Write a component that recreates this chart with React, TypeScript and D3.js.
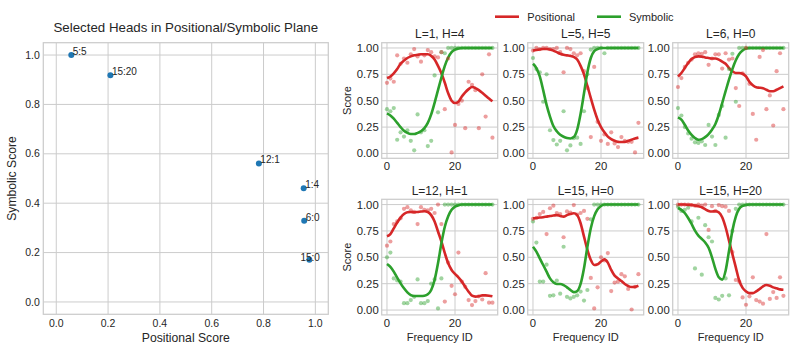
import React, { useEffect } from "react";
import * as d3 from "d3";

// ---- scatter of selected heads ----
const headLabels = ["5:5", "15:20", "12:1", "1:4", "6:0", "15:0"];
const headPositional = [0.058, 0.209, 0.782, 0.955, 0.957, 0.977];
const headSymbolic = [1.0, 0.918, 0.561, 0.461, 0.329, 0.171];

// ---- frequency panels ----
const freqIds = [0, 1, 2, 3, 4, 5, 6, 7, 8, 9, 10, 11, 12, 13, 14, 15, 16, 17, 18, 19, 20, 21, 22, 23, 24, 25, 26, 27, 28, 29, 30, 31];
const panelTitles = ["L=1, H=4", "L=5, H=5", "L=6, H=0", "L=12, H=1", "L=15, H=0", "L=15, H=20"];

const l1h4PosDots = [0.67, 0.71, 0.68, 0.93, 0.85, 0.9, 0.86, 0.94, 0.99, 0.92, 0.87, 0.93, 0.98, 0.96, 0.92, 0.91, 0.96, 0.42, 0.9, 0.01, 0.27, 0.47, 0.5, 0.24, 0.68, 0.65, 0.6, 0.24, 0.75, 0.35, 0.94, 0.15];
const l1h4PosLine = [0.715, 0.73, 0.76, 0.8, 0.85, 0.88, 0.905, 0.92, 0.93, 0.935, 0.94, 0.94, 0.94, 0.925, 0.89, 0.83, 0.76, 0.67, 0.57, 0.5, 0.478, 0.49, 0.54, 0.58, 0.61, 0.63, 0.62, 0.6, 0.575, 0.548, 0.52, 0.494];
const l1h4SymDots = [0.42, 0.4, 0.43, 0.13, 0.2, 0.16, 0.22, 0.12, 0.03, 0.37, 0.2, 0.22, 0.07, 0.12, 0.74, 0.39, 0.96, 0.95, 1, 1, 1, 1, 1, 1, 1, 1, 1, 1, 1, 1, 1, 1];
const l1h4SymLine = [0.38, 0.36, 0.33, 0.29, 0.25, 0.215, 0.195, 0.185, 0.185, 0.195, 0.21, 0.24, 0.29, 0.37, 0.48, 0.6, 0.72, 0.83, 0.91, 0.96, 0.985, 0.995, 1, 1, 1, 1, 1, 1, 1, 1, 1, 1];

const l5h5PosDots = [0.975, 1.0, 0.99, 1.0, 1.0, 0.99, 0.99, 1.0, 0.96, 0.77, 1.0, 0.99, 0.95, 0.93, 0.95, 0.78, 0.62, 0.155, 0.82, 0.3, 0.12, 0.18, 0.09, 0.2, 0.095, 0.06, 0.155, 0.12, 0.11, 0.11, 0.01, 0.29];
const l5h5PosLine = [0.975, 0.98, 0.985, 0.99, 0.99, 0.985, 0.975, 0.96, 0.945, 0.935, 0.93, 0.925, 0.915, 0.89, 0.83, 0.75, 0.64, 0.525, 0.415, 0.32, 0.25, 0.2, 0.16, 0.136, 0.12, 0.11, 0.108, 0.11, 0.12, 0.13, 0.142, 0.15];
const l5h5SymDots = [0.905, 0.8, 0.77, 0.49, 0.75, 0.22, 0.127, 0.085, 0.12, 0.4, 0.03, 0.076, 0.145, 0.15, 0.09, 0.4, 0.75, 0.985, 1, 1, 1, 0.95, 1, 1, 1, 1, 1, 1, 1, 1, 1, 1];
const l5h5SymLine = [0.85, 0.81, 0.73, 0.6, 0.46, 0.35, 0.26, 0.21, 0.177, 0.158, 0.146, 0.142, 0.155, 0.225, 0.376, 0.57, 0.77, 0.905, 0.97, 0.99, 1, 1, 1, 1, 1, 1, 1, 1, 1, 1, 1, 1];

const l6h0PosDots = [0.63, 0.715, 0.82, 0.86, 0.89, 0.94, 0.95, 0.945, 0.96, 0.84, 0.9, 0.94, 0.94, 0.805, 0.95, 0.89, 0.9, 0.62, 0.45, 0.76, 1.0, 0.66, 0.375, 0.13, 0.915, 0.98, 0.42, 0.55, 0.265, 0.78, 0.95, 0.42];
const l6h0PosLine = [0.73, 0.763, 0.81, 0.858, 0.895, 0.915, 0.92, 0.918, 0.91, 0.905, 0.9, 0.9, 0.89, 0.87, 0.85, 0.81, 0.78, 0.763, 0.763, 0.756, 0.73, 0.68, 0.646, 0.627, 0.623, 0.617, 0.604, 0.59, 0.59, 0.604, 0.62, 0.636];
const l6h0SymDots = [0.43, 0.36, 0.25, 0.19, 0.14, 0.105, 0.1, 0.115, 0.08, 0.27, 0.16, 0.08, 0.365, 0.45, 0.15, 0.8, 0.945, 0.49, 1, 1, 1, 1, 1, 1, 1, 1, 1, 1, 1, 1, 1, 1];
const l6h0SymLine = [0.342, 0.32, 0.272, 0.218, 0.177, 0.146, 0.13, 0.136, 0.155, 0.184, 0.225, 0.28, 0.367, 0.478, 0.59, 0.7, 0.8, 0.883, 0.943, 0.977, 0.994, 1, 1, 1, 1, 1, 1, 1, 1, 1, 1, 1];

const l12h1PosDots = [0.61, 0.65, 0.815, 0.84, 0.87, 0.96, 0.975, 0.945, 0.93, 0.815, 0.975, 0.95, 0.945, 0.96, 0.92, 1.0, 0.815, 0.08, 0.45, 0.23, 0.15, 0.545, 0.27, 0.22, 0.095, 0.047, 0.085, 0.13, 0.1, 0.35, 0.07, 0.07];
const l12h1PosLine = [0.7, 0.72, 0.775, 0.83, 0.876, 0.91, 0.927, 0.93, 0.927, 0.93, 0.934, 0.937, 0.93, 0.9, 0.84, 0.745, 0.65, 0.54, 0.443, 0.38, 0.342, 0.31, 0.27, 0.22, 0.174, 0.136, 0.127, 0.13, 0.139, 0.139, 0.136, 0.13];
const l12h1SymDots = [0.5, 0.545, 0.3, 0.28, 0.27, 0.065, 0.065, 0.095, 0.125, 0.29, 0.065, 0.065, 0.085, 0.25, 0.29, 0.015, 0.3, 1, 1, 1, 1, 1, 1, 1, 1, 1, 1, 1, 1, 1, 1, 1];
const l12h1SymLine = [0.437, 0.41, 0.364, 0.307, 0.253, 0.206, 0.168, 0.142, 0.133, 0.133, 0.133, 0.136, 0.149, 0.19, 0.285, 0.443, 0.633, 0.79, 0.89, 0.95, 0.98, 0.994, 1, 1, 1, 1, 1, 1, 1, 1, 1, 1];

const l15h0PosDots = [0.865, 0.875, 0.91, 0.93, 0.72, 0.965, 0.99, 0.92, 0.91, 0.69, 0.935, 0.925, 0.995, 0.905, 0.92, 0.94, 0.865, 0.305, 0.015, 0.215, 0.5, 0.47, 0.54, 0.18, 0.26, 0.27, 0.34, 0.32, 0.2, 0.005, 0.22, 0.34];
const l15h0PosLine = [0.87, 0.873, 0.877, 0.88, 0.886, 0.892, 0.896, 0.9, 0.892, 0.886, 0.9, 0.91, 0.918, 0.9, 0.823, 0.696, 0.57, 0.475, 0.427, 0.434, 0.46, 0.48, 0.45, 0.38, 0.326, 0.3, 0.275, 0.247, 0.228, 0.218, 0.22, 0.23];
const l15h0SymDots = [0.84, 0.64, 0.27, 0.27, 0.43, 0.135, 0.14, 0.28, 0.155, 0.6, 0.125, 0.11, 0.125, 0.14, 0.175, 0.09, 0.19, 0.86, 1, 1, 1, 1, 1, 1, 1, 1, 1, 1, 1, 1, 1, 1];
const l15h0SymLine = [0.6, 0.554, 0.49, 0.427, 0.364, 0.3, 0.263, 0.247, 0.247, 0.237, 0.215, 0.19, 0.17, 0.18, 0.247, 0.396, 0.6, 0.775, 0.89, 0.955, 0.987, 1, 1, 1, 1, 1, 1, 1, 1, 1, 1, 1];

const l15h20PosDots = [1.0, 1.0, 1.0, 1.0, 0.995, 0.99, 1.0, 0.99, 1.0, 0.76, 0.985, 0.94, 0.995, 0.985, 0.98, 0.94, 0.55, 0.285, 0.27, 0.12, 0.05, 0.13, 0.31, 0.095, 0.08, 0.06, 0.72, 0.105, 0.17, 0.115, 0.31, 0.135];
const l15h20PosLine = [1.0, 1.0, 1.0, 0.998, 0.997, 0.99, 0.984, 0.975, 0.956, 0.94, 0.934, 0.937, 0.927, 0.88, 0.785, 0.658, 0.53, 0.405, 0.28, 0.21, 0.177, 0.16, 0.16, 0.177, 0.2, 0.225, 0.237, 0.23, 0.215, 0.206, 0.196, 0.193];
const l15h20SymDots = [0.98, 0.94, 0.95, 0.97, 0.84, 0.395, 0.875, 0.335, 0.805, 0.69, 0.65, 0.115, 0.1, 0.135, 0.3, 0.14, 0.75, 0.96, 1, 1, 1, 1, 1, 1, 1, 1, 1, 1, 1, 1, 1, 1];
const l15h20SymLine = [0.968, 0.95, 0.92, 0.873, 0.816, 0.753, 0.706, 0.674, 0.64, 0.59, 0.5, 0.39, 0.31, 0.288, 0.373, 0.56, 0.753, 0.886, 0.96, 0.987, 0.997, 1, 1, 1, 1, 1, 1, 1, 1, 1, 1, 1];

const panelPosDots = [l1h4PosDots, l5h5PosDots, l6h0PosDots, l12h1PosDots, l15h0PosDots, l15h20PosDots];
const panelPosLines = [l1h4PosLine, l5h5PosLine, l6h0PosLine, l12h1PosLine, l15h0PosLine, l15h20PosLine];
const panelSymDots = [l1h4SymDots, l5h5SymDots, l6h0SymDots, l12h1SymDots, l15h0SymDots, l15h20SymDots];
const panelSymLines = [l1h4SymLine, l5h5SymLine, l6h0SymLine, l12h1SymLine, l15h0SymLine, l15h20SymLine];

const FONT = "'Liberation Sans', Arial, sans-serif";
const TEXT = "#262626";
const GRID = "#cccccc";
const RED = "#d62728";
const GREEN = "#2ca02c";

const Frame = ({ x, y, w, h }: any) => (
  <rect x={x} y={y} width={w} height={h} fill="none" stroke={GRID} strokeWidth={1.25} />
);

const HeadScatter = () => {
  const x0 = 43.3, y0 = 42.7, w = 285, h = 271.6;
  const xs = d3.scaleLinear().domain([-0.05, 1.05]).range([x0, x0 + w]);
  const ys = d3.scaleLinear().domain([-0.05, 1.05]).range([y0 + h, y0]);
  const ticks = [0, 0.2, 0.4, 0.6, 0.8, 1.0];
  const fmt = d3.format(".1f");
  return (
    <g fontFamily={FONT} fill={TEXT}>
      {ticks.map((t) => (
        <g key={"g" + t}>
          <line x1={xs(t)} x2={xs(t)} y1={y0} y2={y0 + h} stroke={GRID} strokeWidth={1} />
          <line x1={x0} x2={x0 + w} y1={ys(t)} y2={ys(t)} stroke={GRID} strokeWidth={1} />
          <text x={xs(t)} y={y0 + h + 12.4} fontSize={10.5} textAnchor="middle">{fmt(t)}</text>
          <text x={x0 - 3.5} y={ys(t)} dy="0.35em" fontSize={10.5} textAnchor="end">{fmt(t)}</text>
        </g>
      ))}
      <Frame x={x0} y={y0} w={w} h={h} />
      {headLabels.map((lab, i) => (
        <g key={lab}>
          <circle cx={xs(headPositional[i])} cy={ys(headSymbolic[i])} r={3} fill="#1f77b4" />
          <text
            x={xs(headPositional[i]) + (lab === "15:0" ? -9 : 1.5)}
            y={ys(headSymbolic[i]) + (lab === "15:0" ? 0.8 : 0)}
            fontSize={10}
          >
            {lab}
          </text>
        </g>
      ))}
      <text x={x0 + w / 2} y={31.8} fontSize={13.3} textAnchor="middle">
        Selected Heads in Positional/Symbolic Plane
      </text>
      <text x={x0 + w / 2} y={342} fontSize={12.2} textAnchor="middle">Positional Score</text>
      <text transform={`translate(16,${y0 + h / 2}) rotate(-90)`} fontSize={12.2} textAnchor="middle">
        Symbolic Score
      </text>
    </g>
  );
};

const Panel = ({ i, x0, y0, w, h }: any) => {
  const xs = d3.scaleLinear().domain([-1.55, 32.55]).range([x0, x0 + w]);
  const ys = d3.scaleLinear().domain([-0.046, 1.05]).range([y0 + h, y0]);
  const yTicks = [0, 0.25, 0.5, 0.75, 1.0];
  const xTicks = [0, 20];
  const fmt = d3.format(".2f");
  const line = d3
    .line<number>()
    .x((_, k) => xs(freqIds[k]))
    .y((d) => ys(d))
    .curve(d3.curveMonotoneX);
  const col = i % 3;
  const row = Math.floor(i / 3);
  return (
    <g fontFamily={FONT} fill={TEXT}>
      {yTicks.map((t) => (
        <g key={"y" + t}>
          <line x1={x0} x2={x0 + w} y1={ys(t)} y2={ys(t)} stroke={GRID} strokeWidth={1} />
          <text x={x0 - 3} y={ys(t)} dy="0.35em" fontSize={11.3} textAnchor="end">{fmt(t)}</text>
        </g>
      ))}
      {xTicks.map((t) => (
        <g key={"x" + t}>
          <line x1={xs(t)} x2={xs(t)} y1={y0} y2={y0 + h} stroke={GRID} strokeWidth={1} />
          <text x={xs(t)} y={y0 + h + 11.8} fontSize={11.3} textAnchor="middle">{t}</text>
        </g>
      ))}
      <Frame x={x0} y={y0} w={w} h={h} />
      <path d={line(panelPosLines[i]) || ""} fill="none" stroke={RED} strokeWidth={2.6} />
      <path d={line(panelSymLines[i]) || ""} fill="none" stroke={GREEN} strokeWidth={2.6} />
      {panelSymDots[i].map((v, k) => (
        <circle key={"s" + k} cx={xs(freqIds[k])} cy={ys(v)} r={2.1} fill={GREEN} fillOpacity={0.45} />
      ))}
      {panelPosDots[i].map((v, k) => (
        <circle key={"p" + k} cx={xs(freqIds[k])} cy={ys(v)} r={2.1} fill={RED} fillOpacity={0.45} />
      ))}
      <text x={x0 + w / 2} y={y0 - 4.4} fontSize={12} textAnchor="middle">{panelTitles[i]}</text>
      {col === 0 && (
        <text transform={`translate(${x0 - 31},${y0 + h / 2}) rotate(-90)`} fontSize={11} textAnchor="middle">
          Score
        </text>
      )}
      {row === 1 && (
        <text x={x0 + w / 2} y={y0 + h + 25.8} fontSize={11} textAnchor="middle">Frequency ID</text>
      )}
    </g>
  );
};

const colLefts = [381.7, 527.7, 672.7];
const rowTops = [42.7, 199.3];

const App = () => {
  useEffect(() => {
    document.body.style.margin = "0";
  }, []);
  return (
    <svg width={797} height={353} style={{ display: "block", background: "#fff" }}>
      <rect width={797} height={353} fill="#fff" />
      <HeadScatter />
      {panelTitles.map((_, i) => (
        <Panel key={i} i={i} x0={colLefts[i % 3]} y0={rowTops[Math.floor(i / 3)]} w={116} h={115.6} />
      ))}
      <g fontFamily={FONT} fill={TEXT} fontSize={11}>
        <line x1={495} x2={519} y1={16.7} y2={16.7} stroke={RED} strokeWidth={2.6} />
        <text x={527.3} y={20.6}>Positional</text>
        <line x1={597} x2={621} y1={16.7} y2={16.7} stroke={GREEN} strokeWidth={2.6} />
        <text x={629} y={20.6}>Symbolic</text>
      </g>
    </svg>
  );
};

export default App;
